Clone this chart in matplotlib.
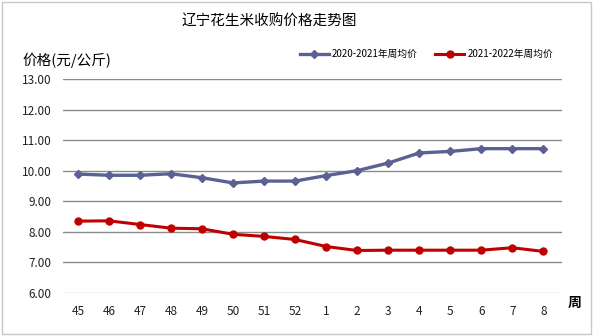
import matplotlib.pyplot as plt
from matplotlib.patches import Rectangle

plt.rcParams['font.family'] = ['Noto Sans CJK SC', 'DejaVu Sans']

# 周次 (上一年45周 ~ 当年8周)
weeks = ['45', '46', '47', '48', '49', '50', '51', '52',
         '1', '2', '3', '4', '5', '6', '7', '8']
price_2020_2021 = [9.89, 9.85, 9.85, 9.90, 9.77, 9.60, 9.66, 9.66,
                   9.84, 10.00, 10.25, 10.58, 10.63, 10.72, 10.72, 10.72]
price_2021_2022 = [8.35, 8.36, 8.24, 8.12, 8.10, 7.92, 7.85, 7.75,
                   7.52, 7.39, 7.40, 7.40, 7.40, 7.40, 7.48, 7.36]
yticks = [6, 7, 8, 9, 10, 11, 12, 13]

fig = plt.figure(figsize=(5.94, 3.36), dpi=100)
ax = fig.add_axes([0.106, 0.128, 0.84, 0.637])

x = range(len(weeks))
ax.plot(x, price_2020_2021, color='#5b6192', lw=2.4, marker='D', ms=4.5,
        label='2020-2021年周均价')
ax.plot(x, price_2021_2022, color='#c00000', lw=2.2, marker='o', ms=5,
        label='2021-2022年周均价')

ax.set_ylim(6, 13)
ax.set_yticks(yticks)
ax.set_yticklabels(['%.2f' % v for v in yticks])
ax.set_xlim(-0.48, 15.6)
ax.set_xticks(list(x))
ax.set_xticklabels(weeks)
ax.tick_params(length=0, labelsize=8.5, colors='#222222')
ax.tick_params(axis='y', pad=8)
ax.tick_params(axis='x', pad=9)
ax.grid(axis='y', color='#8c8c8c', lw=1)
ax.get_ygridlines()[0].set_color('#c4c4c4')
ax.set_axisbelow(True)
for s in ax.spines.values():
    s.set_visible(False)

fig.text(0.453, 0.935, '辽宁花生米收购价格走势图', fontsize=10.5, ha='center', va='center')
fig.text(0.037, 0.82, '价格(元/公斤)', fontsize=10.5, ha='left', va='center')
fig.text(0.955, 0.098, '周', fontsize=10, fontweight='bold', ha='left', va='center')

ax.legend(loc='center right', bbox_to_anchor=(0.99, 1.115), ncol=2, frameon=False,
          fontsize=7, handlelength=3, columnspacing=1.8, handletextpad=0.3,
          borderaxespad=0)

fig.add_artist(Rectangle((0.004, 0.006), 0.991, 0.988, transform=fig.transFigure,
                         fill=False, ec='#c8c8c8', lw=1))

fig.savefig('out.png', dpi=100)
